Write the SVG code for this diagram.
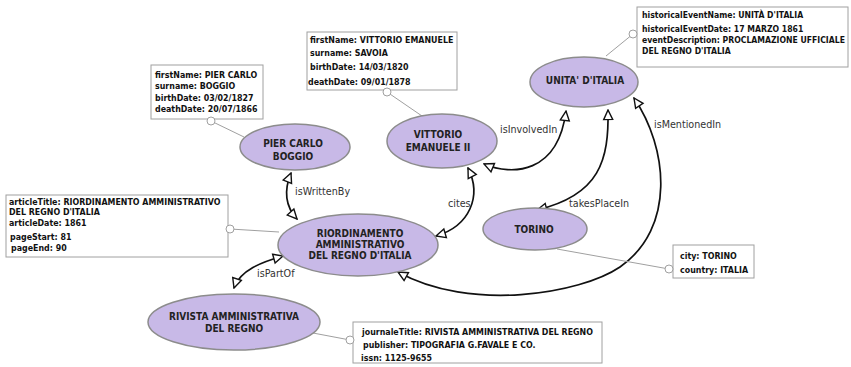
<svg xmlns="http://www.w3.org/2000/svg" width="851" height="367" viewBox="0 0 851 367">
  <style>
    .node ellipse { fill: #c8b9e7; stroke: #8c8c8c; stroke-width: 1.5; }
    .node text { font-family: "DejaVu Sans Condensed", "DejaVu Sans", sans-serif; font-weight: bold; font-size: 10px; fill: #222; text-anchor: middle; }
    .note rect { fill: #fff; stroke: #a0a0a0; stroke-width: 1; }
    .note text { font-family: "DejaVu Sans Condensed", "DejaVu Sans", sans-serif; font-weight: bold; font-size: 8.8px; fill: #111; }
    #note-unita text { font-size: 8.6px; }
    .tie { stroke: #a0a0a0; stroke-width: 1; fill: none; }
    .pin { fill: #fff; stroke: #a0a0a0; stroke-width: 1; }
    .edge { fill: none; stroke: #111; stroke-width: 1.7; marker-start: url(#head); marker-end: url(#head); }
    .elabel { font-family: "DejaVu Sans", sans-serif; font-size: 9.6px; fill: #333; }
  </style>
  <defs>
    <marker id="head" viewBox="0 0 12 12" refX="11" refY="6" markerWidth="12" markerHeight="12" markerUnits="userSpaceOnUse" orient="auto-start-reverse">
      <path d="M1.5,1.5 L11,6 L1.5,10.5 Z" fill="#fff" stroke="#111" stroke-width="1.4"/>
    </marker>
  </defs>
  <rect width="851" height="367" fill="#fff"/>

  <!-- connectors -->
  <g id="connectors">
    <path class="edge" d="M291,173 C284,190 285,206 297,219"/>
    <path class="edge" d="M436,236 C470,226 482,196 468,168"/>
    <path class="edge" d="M484,164 C512,176 558,174 566,111"/>
    <path class="edge" d="M608,110 C609,160 600,195 537,210"/>
    <path class="edge" d="M634,98 C668,148 676,228 620,267 C580,294 470,312 398,272"/>
    <path class="edge" d="M283,256 C262,262 240,270 234,288"/>
    <text class="elabel" x="295" y="195">isWrittenBy</text>
    <text class="elabel" x="448" y="207">cites</text>
    <text class="elabel" x="500" y="133">isInvolvedIn</text>
    <text class="elabel" x="569" y="207">takesPlaceIn</text>
    <text class="elabel" x="654" y="128">isMentionedIn</text>
    <text class="elabel" x="257" y="277">isPartOf</text>
  </g>

  <!-- property notes and their ties -->
  <g id="note-boggio" class="note">
    <line class="tie" x1="211" y1="121" x2="244" y2="137"/>
    <rect x="151" y="65" width="112" height="54"/>
    <circle class="pin" cx="211" cy="121" r="4"/>
    <text x="155" y="78">firstName: PIER CARLO</text>
    <text x="155" y="89">surname: BOGGIO</text>
    <text x="155" y="101">birthDate: 03/02/1827</text>
    <text x="155" y="112">deathDate: 20/07/1866</text>
  </g>
  <g id="note-vittorio" class="note">
    <line class="tie" x1="387" y1="92" x2="422" y2="116"/>
    <rect x="307" y="32" width="150" height="58"/>
    <circle class="pin" cx="387" cy="92" r="4"/>
    <text x="310" y="43">firstName: VITTORIO EMANUELE</text>
    <text x="310" y="56">surname: SAVOIA</text>
    <text x="310" y="70">birthDate: 14/03/1820</text>
    <text x="308" y="85">deathDate: 09/01/1878</text>
  </g>
  <g id="note-unita" class="note">
    <line class="tie" x1="633" y1="34" x2="606" y2="56"/>
    <rect x="637" y="7" width="211" height="60"/>
    <circle class="pin" cx="633" cy="34" r="4"/>
    <text x="642" y="18">historicalEventName: UNITÀ D'ITALIA</text>
    <text x="642" y="32">historicalEventDate: 17 MARZO 1861</text>
    <text x="642" y="43">eventDescription: PROCLAMAZIONE UFFICIALE</text>
    <text x="642" y="54">DEL REGNO D'ITALIA</text>
  </g>
  <g id="note-article" class="note">
    <line class="tie" x1="230" y1="229" x2="279" y2="232"/>
    <rect x="6" y="195" width="222" height="62"/>
    <circle class="pin" cx="230" cy="229" r="4"/>
    <text x="9" y="205">articleTitle: RIORDINAMENTO AMMINISTRATIVO</text>
    <text x="9" y="215">DEL REGNO D'ITALIA</text>
    <text x="9" y="226">articleDate: 1861</text>
    <text x="10" y="240">pageStart: 81</text>
    <text x="11" y="251">pageEnd: 90</text>
  </g>
  <g id="note-torino" class="note">
    <line class="tie" x1="557" y1="249" x2="669" y2="269"/>
    <rect x="673" y="245" width="81" height="33"/>
    <circle class="pin" cx="669" cy="269" r="4"/>
    <text x="680" y="259">city: TORINO</text>
    <text x="680" y="273">country: ITALIA</text>
  </g>
  <g id="note-rivista" class="note">
    <line class="tie" x1="313" y1="333" x2="350" y2="340"/>
    <rect x="353" y="322" width="249" height="41"/>
    <circle class="pin" cx="350" cy="340" r="4"/>
    <text x="362" y="335">journaleTitle: RIVISTA AMMINISTRATIVA DEL REGNO</text>
    <text x="363" y="348">publisher: TIPOGRAFIA G.FAVALE E CO.</text>
    <text x="361" y="361">issn: 1125-9655</text>
  </g>

  <!-- resource nodes -->
  <g id="node-boggio" class="node">
    <ellipse cx="295" cy="147" rx="55" ry="23"/>
    <text x="293" y="147">PIER CARLO</text>
    <text x="293" y="160">BOGGIO</text>
  </g>
  <g id="node-vittorio" class="node">
    <ellipse cx="442" cy="141" rx="55" ry="27"/>
    <text x="438" y="138">VITTORIO</text>
    <text x="438" y="151">EMANUELE II</text>
  </g>
  <g id="node-unita" class="node">
    <ellipse cx="584" cy="82" rx="54" ry="25"/>
    <text x="585" y="84">UNITA' D'ITALIA</text>
  </g>
  <g id="node-torino" class="node">
    <ellipse cx="535" cy="229" rx="52" ry="21"/>
    <text x="534" y="233">TORINO</text>
  </g>
  <g id="node-riordinamento" class="node">
    <ellipse cx="358" cy="245" rx="80" ry="31"/>
    <text x="360" y="237">RIORDINAMENTO</text>
    <text x="360" y="248">AMMINISTRATIVO</text>
    <text x="360" y="259">DEL REGNO D'ITALIA</text>
  </g>
  <g id="node-rivista" class="node">
    <ellipse cx="234" cy="322" rx="86" ry="28"/>
    <text x="234" y="320">RIVISTA AMMINISTRATIVA</text>
    <text x="234" y="332">DEL REGNO</text>
  </g>
</svg>
